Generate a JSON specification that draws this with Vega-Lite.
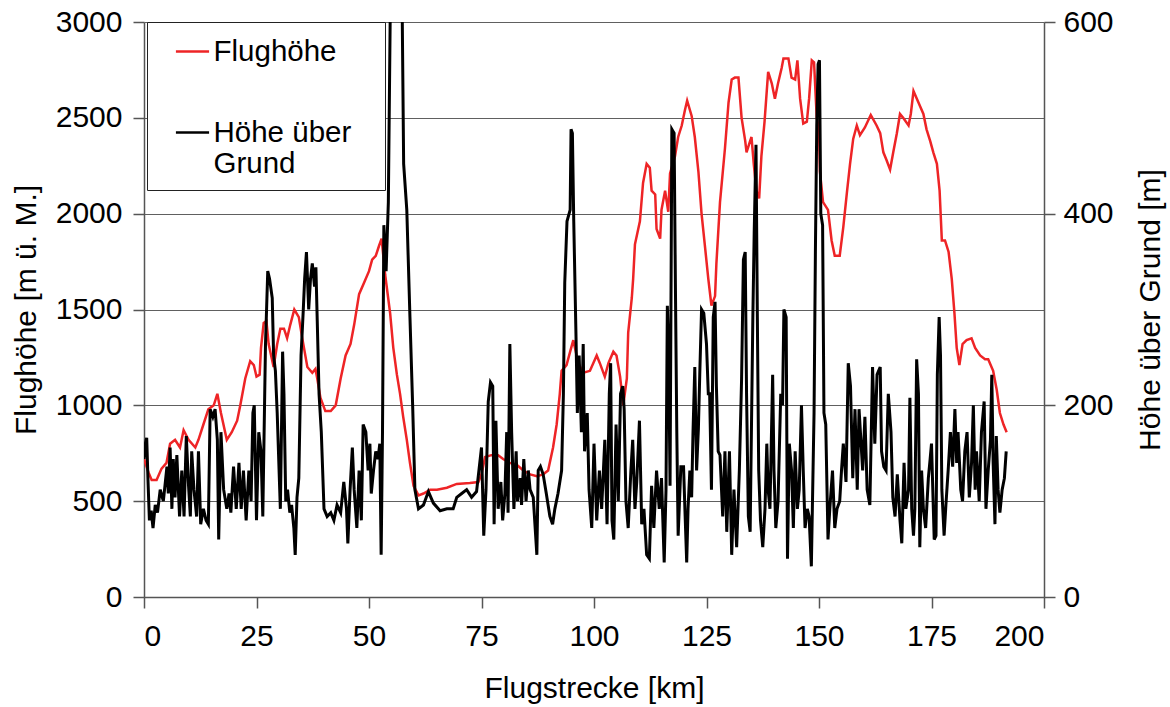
{
 "$schema": "https://vega.github.io/schema/vega-lite/v6.json",
 "width": 900,
 "height": 575,
 "autosize": {"type": "none"},
 "padding": {"left": 144, "top": 22, "right": 126, "bottom": 110},
 "background": "white",
 "config": {
  "font": "Liberation Sans",
  "view": {"stroke": null},
  "axis": {
   "labelFont": "Liberation Sans", "labelFontSize": 30, "labelColor": "#000",
   "titleFont": "Liberation Sans", "titleFontSize": 30, "titleFontWeight": "normal", "titleColor": "#000",
   "domainColor": "#555555", "domainWidth": 1.5, "tickColor": "#555555", "tickWidth": 1.5, "tickSize": 11,
   "gridColor": "#606060", "gridWidth": 1.2
  },
  "legend": {
   "orient": "none", "legendX": 3, "legendY": 0,
   "strokeColor": "#222", "fillColor": "#fff", "padding": 11.5,
   "symbolType": "stroke", "symbolSize": 1100, "symbolStrokeWidth": 2.5, "symbolOffset": 16,
   "labelFont": "Liberation Sans", "labelFontSize": 29.5, "labelColor": "#000", "labelOffset": 3,
   "rowPadding": 48, "labelLimit": 400
  }
 },
 "datasets": {
  "alt": [
   {"km":0,"m":720},{"km":1,"m":650},{"km":1.7,"m":610},{"km":2.8,"m":610},{"km":3.9,"m":670},{"km":5,"m":700},{"km":5.8,"m":800},{"km":6.9,"m":820},{"km":8,"m":780},{"km":8.8,"m":870},{"km":9.9,"m":820},{"km":11.4,"m":780},{"km":12.1,"m":820},{"km":13.2,"m":900},{"km":14.3,"m":980},{"km":15.5,"m":1000},{"km":16.3,"m":1060},{"km":17.1,"m":960},{"km":18.4,"m":820},{"km":19.5,"m":860},{"km":20.7,"m":920},{"km":21.4,"m":1000},{"km":22.5,"m":1140},{"km":23.6,"m":1230},{"km":24.4,"m":1210},{"km":25,"m":1150},{"km":25.7,"m":1160},{"km":26,"m":1300},{"km":26.6,"m":1430},{"km":27.2,"m":1440},{"km":27.7,"m":1320},{"km":28.8,"m":1200},{"km":29.6,"m":1320},{"km":30.3,"m":1400},{"km":31.1,"m":1400},{"km":31.8,"m":1350},{"km":32.5,"m":1420},{"km":33.4,"m":1500},{"km":34.4,"m":1460},{"km":35.1,"m":1360},{"km":36.3,"m":1200},{"km":37.4,"m":1170},{"km":38.1,"m":1190},{"km":38.5,"m":1140},{"km":39.2,"m":1040},{"km":40.3,"m":970},{"km":41.5,"m":970},{"km":42.6,"m":1000},{"km":43.7,"m":1140},{"km":44.8,"m":1260},{"km":45.9,"m":1320},{"km":46.7,"m":1420},{"km":47.8,"m":1580},{"km":48.9,"m":1640},{"km":50,"m":1700},{"km":50.7,"m":1760},{"km":51.5,"m":1780},{"km":52.2,"m":1830},{"km":52.8,"m":1870},{"km":53.6,"m":1680},{"km":54.7,"m":1480},{"km":55.4,"m":1300},{"km":56.2,"m":1160},{"km":56.9,"m":1060},{"km":57.6,"m":940},{"km":58.4,"m":820},{"km":59.1,"m":700},{"km":59.9,"m":580},{"km":61,"m":530},{"km":62.1,"m":540},{"km":63.6,"m":560},{"km":65.1,"m":560},{"km":67.3,"m":570},{"km":69.5,"m":590},{"km":72.4,"m":595},{"km":74.3,"m":600},{"km":75,"m":640},{"km":75.8,"m":730},{"km":77.2,"m":740},{"km":78.7,"m":740},{"km":79.8,"m":720},{"km":81.3,"m":700},{"km":82.8,"m":690},{"km":84.3,"m":660},{"km":85.8,"m":640},{"km":87.3,"m":630},{"km":88.7,"m":640},{"km":89.8,"m":660},{"km":90.9,"m":780},{"km":91.7,"m":900},{"km":92.4,"m":1060},{"km":92.8,"m":1180},{"km":93.9,"m":1210},{"km":94.7,"m":1280},{"km":95.4,"m":1340},{"km":96.5,"m":1220},{"km":97.6,"m":1170},{"km":99.1,"m":1180},{"km":100.6,"m":1260},{"km":101.3,"m":1220},{"km":102.4,"m":1150},{"km":103.2,"m":1220},{"km":104.3,"m":1280},{"km":105,"m":1260},{"km":105.8,"m":1150},{"km":106.5,"m":1000},{"km":107.3,"m":1140},{"km":107.6,"m":1380},{"km":108.4,"m":1560},{"km":108.7,"m":1660},{"km":109.1,"m":1840},{"km":110.2,"m":1960},{"km":110.9,"m":2160},{"km":111.7,"m":2260},{"km":112.4,"m":2240},{"km":112.8,"m":2120},{"km":113.6,"m":2100},{"km":113.9,"m":1920},{"km":114.7,"m":1870},{"km":115,"m":2020},{"km":115.8,"m":2120},{"km":116.5,"m":2010},{"km":116.9,"m":2210},{"km":118,"m":2300},{"km":118.7,"m":2400},{"km":119.5,"m":2460},{"km":120.2,"m":2540},{"km":120.7,"m":2590},{"km":121.7,"m":2510},{"km":122.4,"m":2400},{"km":123.2,"m":2220},{"km":123.9,"m":2000},{"km":124.7,"m":1820},{"km":125.4,"m":1660},{"km":126.1,"m":1520},{"km":126.9,"m":1570},{"km":127.2,"m":1740},{"km":128,"m":2060},{"km":129.1,"m":2340},{"km":129.9,"m":2580},{"km":130.6,"m":2700},{"km":131.3,"m":2710},{"km":132.1,"m":2710},{"km":132.8,"m":2500},{"km":133.6,"m":2380},{"km":133.9,"m":2320},{"km":134.7,"m":2380},{"km":135,"m":2400},{"km":135.5,"m":2260},{"km":136.1,"m":2120},{"km":136.7,"m":2080},{"km":137.2,"m":2300},{"km":137.9,"m":2480},{"km":138.7,"m":2740},{"km":139.5,"m":2680},{"km":140.2,"m":2600},{"km":140.9,"m":2680},{"km":141.7,"m":2760},{"km":142.1,"m":2810},{"km":143.2,"m":2810},{"km":143.9,"m":2710},{"km":144.7,"m":2700},{"km":145.2,"m":2800},{"km":145.8,"m":2600},{"km":146.5,"m":2470},{"km":147.3,"m":2480},{"km":147.8,"m":2600},{"km":148.4,"m":2800},{"km":148.9,"m":2790},{"km":149.5,"m":2500},{"km":150,"m":2440},{"km":150.2,"m":2220},{"km":150.9,"m":2060},{"km":152,"m":2020},{"km":152.8,"m":1860},{"km":153.5,"m":1780},{"km":154.6,"m":1780},{"km":155.4,"m":1930},{"km":156.2,"m":2110},{"km":156.9,"m":2260},{"km":157.6,"m":2390},{"km":158.4,"m":2460},{"km":159.1,"m":2410},{"km":160.2,"m":2450},{"km":161.5,"m":2515},{"km":162.8,"m":2460},{"km":163.6,"m":2420},{"km":164.3,"m":2320},{"km":165,"m":2280},{"km":165.8,"m":2230},{"km":166.5,"m":2320},{"km":167.3,"m":2420},{"km":168,"m":2520},{"km":168.7,"m":2500},{"km":169.9,"m":2460},{"km":170.4,"m":2520},{"km":171,"m":2640},{"km":172.1,"m":2580},{"km":173.2,"m":2520},{"km":173.9,"m":2440},{"km":174.7,"m":2380},{"km":175.4,"m":2320},{"km":176.2,"m":2260},{"km":176.8,"m":2120},{"km":177.3,"m":1860},{"km":178,"m":1860},{"km":178.8,"m":1800},{"km":179.5,"m":1660},{"km":180.1,"m":1480},{"km":180.6,"m":1300},{"km":181.2,"m":1210},{"km":181.9,"m":1320},{"km":182.8,"m":1340},{"km":183.9,"m":1350},{"km":184.7,"m":1300},{"km":185.8,"m":1260},{"km":186.9,"m":1240},{"km":187.6,"m":1240},{"km":188.7,"m":1180},{"km":189.5,"m":1080},{"km":190.2,"m":960},{"km":191,"m":900},{"km":191.7,"m":860}
  ],
  "agl": [
   {"km":0,"m":144},{"km":0.3,"m":160},{"km":0.6,"m":166},{"km":0.9,"m":120},{"km":1.2,"m":80},{"km":1.6,"m":90},{"km":2,"m":72},{"km":2.5,"m":96},{"km":3,"m":88},{"km":3.6,"m":112},{"km":4.3,"m":100},{"km":5.1,"m":136},{"km":5.4,"m":108},{"km":5.8,"m":156},{"km":6.2,"m":92},{"km":6.5,"m":144},{"km":6.9,"m":104},{"km":7.3,"m":148},{"km":7.9,"m":84},{"km":8.4,"m":132},{"km":8.9,"m":84},{"km":9.4,"m":168},{"km":9.9,"m":116},{"km":10.3,"m":84},{"km":10.6,"m":152},{"km":11.1,"m":112},{"km":11.7,"m":84},{"km":12.1,"m":152},{"km":12.6,"m":76},{"km":13.2,"m":92},{"km":13.8,"m":80},{"km":14.3,"m":76},{"km":14.7,"m":196},{"km":15.3,"m":188},{"km":15.8,"m":196},{"km":16.3,"m":164},{"km":16.6,"m":60},{"km":17.1,"m":172},{"km":17.7,"m":112},{"km":18.4,"m":92},{"km":18.9,"m":108},{"km":19.3,"m":88},{"km":19.9,"m":136},{"km":20.5,"m":92},{"km":21.1,"m":140},{"km":21.6,"m":92},{"km":22.1,"m":132},{"km":22.7,"m":80},{"km":23.3,"m":132},{"km":23.8,"m":100},{"km":24.2,"m":192},{"km":24.5,"m":200},{"km":25,"m":80},{"km":25.5,"m":172},{"km":26,"m":152},{"km":26.4,"m":84},{"km":27,"m":264},{"km":27.5,"m":340},{"km":27.9,"m":332},{"km":28.5,"m":312},{"km":28.8,"m":252},{"km":29.2,"m":236},{"km":29.6,"m":192},{"km":30.3,"m":92},{"km":30.8,"m":256},{"km":31.1,"m":212},{"km":31.5,"m":100},{"km":31.9,"m":112},{"km":32.4,"m":88},{"km":32.8,"m":96},{"km":33.3,"m":72},{"km":33.6,"m":44},{"km":34,"m":104},{"km":34.4,"m":124},{"km":34.9,"m":252},{"km":35.4,"m":300},{"km":35.7,"m":332},{"km":36.1,"m":360},{"km":36.6,"m":300},{"km":37,"m":332},{"km":37.4,"m":348},{"km":37.9,"m":324},{"km":38.2,"m":344},{"km":38.5,"m":288},{"km":38.9,"m":212},{"km":39.4,"m":172},{"km":40,"m":92},{"km":40.7,"m":84},{"km":41.5,"m":88},{"km":42.2,"m":80},{"km":42.9,"m":96},{"km":43.7,"m":88},{"km":44.4,"m":120},{"km":45,"m":92},{"km":45.3,"m":56},{"km":45.8,"m":112},{"km":46.3,"m":156},{"km":46.7,"m":112},{"km":47.3,"m":72},{"km":47.8,"m":132},{"km":48.3,"m":80},{"km":48.7,"m":180},{"km":49.3,"m":172},{"km":49.8,"m":132},{"km":50.2,"m":160},{"km":50.5,"m":108},{"km":51,"m":132},{"km":51.5,"m":152},{"km":52,"m":144},{"km":52.4,"m":160},{"km":52.7,"m":44},{"km":53,"m":172},{"km":53.3,"m":388},{"km":53.8,"m":340},{"km":54.3,"m":412},{"km":54.7,"m":600},{"km":55.2,"m":680},{"km":56.5,"m":680},{"km":57.4,"m":600},{"km":57.7,"m":452},{"km":58.4,"m":404},{"km":59.1,"m":292},{"km":59.7,"m":200},{"km":60.2,"m":112},{"km":61,"m":92},{"km":62.1,"m":96},{"km":63.2,"m":110},{"km":64.3,"m":98},{"km":65.8,"m":90},{"km":67.3,"m":92},{"km":68.7,"m":92},{"km":69.5,"m":104},{"km":70.6,"m":108},{"km":71.7,"m":112},{"km":72.8,"m":104},{"km":73.9,"m":110},{"km":75,"m":156},{"km":75.5,"m":64},{"km":76,"m":112},{"km":76.5,"m":204},{"km":77,"m":224},{"km":77.5,"m":220},{"km":77.8,"m":76},{"km":78.2,"m":184},{"km":78.7,"m":92},{"km":79.3,"m":120},{"km":79.7,"m":80},{"km":80.2,"m":108},{"km":80.6,"m":172},{"km":80.9,"m":88},{"km":81.3,"m":264},{"km":81.7,"m":172},{"km":82.2,"m":92},{"km":82.7,"m":152},{"km":83,"m":100},{"km":83.6,"m":124},{"km":83.9,"m":96},{"km":84.4,"m":144},{"km":84.9,"m":100},{"km":85.4,"m":132},{"km":85.8,"m":112},{"km":86.5,"m":104},{"km":87.3,"m":44},{"km":87.6,"m":132},{"km":88.1,"m":136},{"km":88.7,"m":128},{"km":89.4,"m":108},{"km":90.2,"m":84},{"km":90.8,"m":76},{"km":91.3,"m":92},{"km":92,"m":108},{"km":92.8,"m":132},{"km":93.2,"m":212},{"km":93.5,"m":328},{"km":94,"m":392},{"km":94.7,"m":404},{"km":94.9,"m":488},{"km":95.2,"m":484},{"km":95.5,"m":392},{"km":96,"m":272},{"km":96.3,"m":192},{"km":96.7,"m":252},{"km":97.2,"m":172},{"km":97.6,"m":264},{"km":97.9,"m":152},{"km":98.5,"m":192},{"km":98.9,"m":112},{"km":99.5,"m":72},{"km":100,"m":160},{"km":100.6,"m":80},{"km":101.2,"m":132},{"km":101.7,"m":92},{"km":102.4,"m":164},{"km":102.9,"m":76},{"km":103.4,"m":212},{"km":103.7,"m":244},{"km":104,"m":80},{"km":104.4,"m":60},{"km":104.9,"m":180},{"km":105.4,"m":100},{"km":105.9,"m":212},{"km":106.4,"m":220},{"km":106.7,"m":196},{"km":107.1,"m":100},{"km":107.6,"m":72},{"km":108.2,"m":132},{"km":108.6,"m":164},{"km":109.1,"m":92},{"km":109.5,"m":120},{"km":110.1,"m":184},{"km":110.6,"m":76},{"km":111.1,"m":92},{"km":111.7,"m":44},{"km":112.3,"m":40},{"km":112.8,"m":116},{"km":113.3,"m":72},{"km":113.9,"m":132},{"km":114.5,"m":92},{"km":115,"m":124},{"km":115.6,"m":36},{"km":116,"m":112},{"km":116.3,"m":304},{"km":116.6,"m":252},{"km":116.9,"m":116},{"km":117.3,"m":488},{"km":117.8,"m":484},{"km":118.1,"m":320},{"km":118.4,"m":172},{"km":118.7,"m":64},{"km":119.3,"m":136},{"km":119.9,"m":136},{"km":120.2,"m":92},{"km":120.6,"m":36},{"km":120.9,"m":92},{"km":121.3,"m":132},{"km":121.7,"m":104},{"km":122,"m":172},{"km":122.4,"m":240},{"km":122.8,"m":132},{"km":123.2,"m":176},{"km":123.5,"m":232},{"km":123.9,"m":300},{"km":124.4,"m":296},{"km":125,"m":264},{"km":125.4,"m":212},{"km":125.7,"m":212},{"km":126.1,"m":112},{"km":126.5,"m":292},{"km":126.9,"m":308},{"km":127.2,"m":220},{"km":127.6,"m":152},{"km":128,"m":148},{"km":128.6,"m":84},{"km":129.1,"m":152},{"km":129.5,"m":68},{"km":130.1,"m":152},{"km":130.6,"m":44},{"km":131.1,"m":112},{"km":131.7,"m":52},{"km":132.3,"m":132},{"km":132.8,"m":228},{"km":133.2,"m":352},{"km":133.6,"m":360},{"km":133.9,"m":212},{"km":134.3,"m":84},{"km":134.7,"m":68},{"km":135.3,"m":292},{"km":135.6,"m":380},{"km":136,"m":472},{"km":136.3,"m":292},{"km":136.6,"m":132},{"km":137,"m":80},{"km":137.5,"m":52},{"km":138,"m":92},{"km":138.4,"m":160},{"km":138.7,"m":112},{"km":139.1,"m":92},{"km":139.7,"m":232},{"km":140,"m":132},{"km":140.4,"m":72},{"km":140.9,"m":100},{"km":141.5,"m":212},{"km":141.9,"m":200},{"km":142.2,"m":300},{"km":142.7,"m":292},{"km":143,"m":40},{"km":143.4,"m":160},{"km":143.9,"m":132},{"km":144.3,"m":72},{"km":144.7,"m":152},{"km":145.2,"m":92},{"km":145.6,"m":112},{"km":146.1,"m":200},{"km":146.5,"m":132},{"km":146.9,"m":72},{"km":147.4,"m":92},{"km":147.8,"m":84},{"km":148.3,"m":32},{"km":148.9,"m":192},{"km":149.2,"m":360},{"km":149.5,"m":492},{"km":149.8,"m":556},{"km":150.1,"m":560},{"km":150.4,"m":400},{"km":150.8,"m":388},{"km":151.1,"m":192},{"km":151.5,"m":180},{"km":152,"m":60},{"km":152.4,"m":92},{"km":153,"m":132},{"km":153.5,"m":72},{"km":154,"m":92},{"km":154.6,"m":100},{"km":155,"m":132},{"km":155.4,"m":160},{"km":156,"m":120},{"km":156.5,"m":244},{"km":157,"m":220},{"km":157.5,"m":124},{"km":158,"m":196},{"km":158.5,"m":112},{"km":158.9,"m":196},{"km":159.2,"m":172},{"km":159.7,"m":132},{"km":160.2,"m":188},{"km":160.7,"m":112},{"km":161.3,"m":96},{"km":161.9,"m":240},{"km":162.4,"m":160},{"km":162.9,"m":232},{"km":163.6,"m":240},{"km":163.9,"m":152},{"km":164.4,"m":136},{"km":164.9,"m":132},{"km":165.4,"m":212},{"km":166,"m":172},{"km":166.4,"m":104},{"km":166.9,"m":84},{"km":167.4,"m":128},{"km":168,"m":80},{"km":168.4,"m":56},{"km":168.9,"m":140},{"km":169.3,"m":92},{"km":169.9,"m":112},{"km":170.2,"m":208},{"km":170.6,"m":92},{"km":171,"m":64},{"km":171.3,"m":92},{"km":171.7,"m":248},{"km":172.1,"m":212},{"km":172.4,"m":52},{"km":172.8,"m":132},{"km":173.2,"m":92},{"km":173.7,"m":72},{"km":174.3,"m":124},{"km":174.7,"m":144},{"km":175,"m":160},{"km":175.6,"m":60},{"km":176,"m":64},{"km":176.3,"m":232},{"km":176.7,"m":292},{"km":177,"m":252},{"km":177.3,"m":112},{"km":177.8,"m":64},{"km":178.2,"m":96},{"km":178.7,"m":132},{"km":179.2,"m":172},{"km":179.7,"m":136},{"km":180.2,"m":196},{"km":180.6,"m":140},{"km":180.9,"m":172},{"km":181.5,"m":112},{"km":181.9,"m":100},{"km":182.4,"m":152},{"km":182.9,"m":172},{"km":183.4,"m":104},{"km":183.9,"m":140},{"km":184.3,"m":200},{"km":184.7,"m":112},{"km":185,"m":152},{"km":185.6,"m":100},{"km":186.1,"m":172},{"km":186.7,"m":204},{"km":187.1,"m":92},{"km":187.6,"m":132},{"km":188.1,"m":164},{"km":188.4,"m":232},{"km":188.7,"m":140},{"km":189.1,"m":76},{"km":189.4,"m":168},{"km":189.8,"m":112},{"km":190.2,"m":88},{"km":190.7,"m":112},{"km":191.2,"m":124},{"km":191.6,"m":152}
  ]
 },
 "layer": [
  {
   "data": {"name": "alt"},
   "mark": {"type": "line", "strokeWidth": 2.5, "clip": true},
   "encoding": {
    "x": {"field": "km", "type": "quantitative", "scale": {"domain": [0, 200], "nice": false},
          "axis": {"title": "Flugstrecke [km]", "values": [0,25,50,75,100,125,150,175,200], "grid": false, "labelPadding": 13, "titlePadding": 22}},
    "y": {"field": "m", "type": "quantitative", "scale": {"domain": [0, 3000], "nice": false},
          "axis": {"title": "Flughöhe [m ü. M.]", "format": "d", "values": [0,500,1000,1500,2000,2500,3000], "grid": true, "labelPadding": 11, "titlePadding": 14}},
    "color": {"datum": "Flughöhe", "type": "nominal",
              "scale": {"domain": ["Flughöhe", "Höhe über Grund"], "range": ["#ee2426", "#000000"]},
              "legend": {"title": null, "labelExpr": "datum.label == 'Höhe über Grund' ? ['Höhe über\u2800', 'Grund'] : datum.label"}}
   }
  },
  {
   "data": {"name": "agl"},
   "mark": {"type": "line", "strokeWidth": 3, "clip": true},
   "encoding": {
    "x": {"field": "km", "type": "quantitative"},
    "y": {"field": "m", "type": "quantitative", "scale": {"domain": [0, 600], "nice": false},
          "axis": {"orient": "right", "title": "Höhe über Grund [m]", "format": "d", "values": [0,200,400,600], "grid": false, "labelPadding": 8, "titlePadding": 22, "titleAngle": 270, "titleBaseline": "top"}},
    "color": {"datum": "Höhe über Grund", "type": "nominal"}
   }
  }
 ],
 "resolve": {"scale": {"y": "independent"}}
}
